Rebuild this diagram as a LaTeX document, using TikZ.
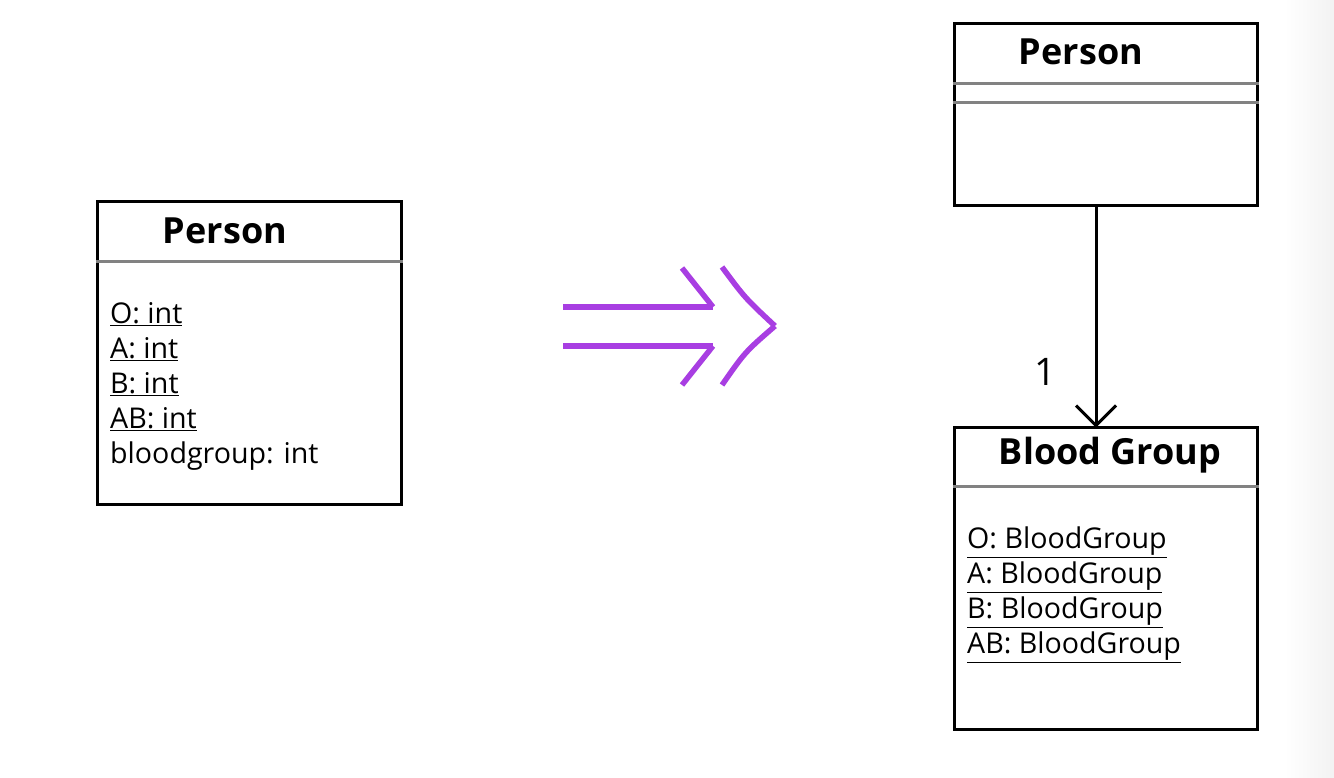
\documentclass[tikz,border=0pt]{standalone}
\usepackage{fontspec}
\setmainfont{Open Sans}
\usetikzlibrary{positioning}
\definecolor{refpurple}{RGB}{168,62,226}
\definecolor{sepgray}{RGB}{130,130,130}
\tikzset{
umlbox/.style={rectangle, draw=black, line width=3pt, inner sep=0pt}, % class box
sep/.style={draw=sepgray, line width=3pt}, % compartment line
title/.style={font=\fontsize{36}{40}\bfseries\selectfont, inner sep=0pt},
attr/.style={font=\fontsize{28.6}{35}\selectfont, align=left, anchor=north west, inner sep=0pt},
}

\begin{document}
\begin{tikzpicture}[x=1pt, y=-1pt]
  \useasboundingbox (0,0) rectangle (1334,778);
  \shade[left color=white, right color=black!5] (1285,0) rectangle (1334,778);

  % left class
  \node[umlbox, minimum width=304, minimum height=302] (pers1) at (249,353) {};
  \node[title] (t1) at (225,231) {Person};
  \draw[sep] ([yshift=-61pt]pers1.north west) -- ([yshift=-61pt]pers1.north east);
  \node[attr] (a1) at (110,302) {\underline{O: int}\\ \underline{A: int}\\ \underline{B: int}\\ \underline{AB: int}\\ bloodgroup: int};

  % the transformation arrow
  \begin{scope}[draw=refpurple, line width=5.5pt]
    \coordinate (tip) at (775,326);
    \draw (563,307) -- (713,307);
    \draw (563,346) -- (713,346);
    \draw (682,268) -- (713,307);
    \draw (682,385) -- (713,346);
    \draw (722,267) .. controls (745,298) .. (tip);
    \draw (tip) .. controls (745,352) .. (722,385);
  \end{scope}

  % right classes
  \node[umlbox, minimum width=303, minimum height=182] (pers2) at (1105.5,115) {};
  \node[title] (t2) at (1081,52) {Person};
  \draw[sep] ([yshift=-61pt]pers2.north west) -- ([yshift=-61pt]pers2.north east);
  \draw[sep] ([yshift=-80pt]pers2.north west) -- ([yshift=-80pt]pers2.north east);

  \node[umlbox, minimum width=303, minimum height=302] (bg) at (1105.5,578) {};
  \node[title] (t3) at (1110,455) {Blood Group};
  \draw[sep] ([yshift=-61pt]bg.north west) -- ([yshift=-61pt]bg.north east);
  \node[attr] (a2) at (967,527) {\underline{O: BloodGroup}\\ \underline{A: BloodGroup}\\ \underline{B: BloodGroup}\\ \underline{AB: BloodGroup}};

  % association
  \draw[line width=3pt] ([xshift=-9.5pt]pers2.south) -- ([xshift=-9.5pt]bg.north);
  \draw[line width=3pt] ([xshift=-29.5pt,yshift=20pt]bg.north) -- ([xshift=-9.5pt]bg.north) -- ([xshift=10.5pt,yshift=20pt]bg.north);
  \node[font=\fontsize{38}{42}\selectfont, inner sep=0pt] (m1) at (1045,372) {1};
\end{tikzpicture}
\end{document}
